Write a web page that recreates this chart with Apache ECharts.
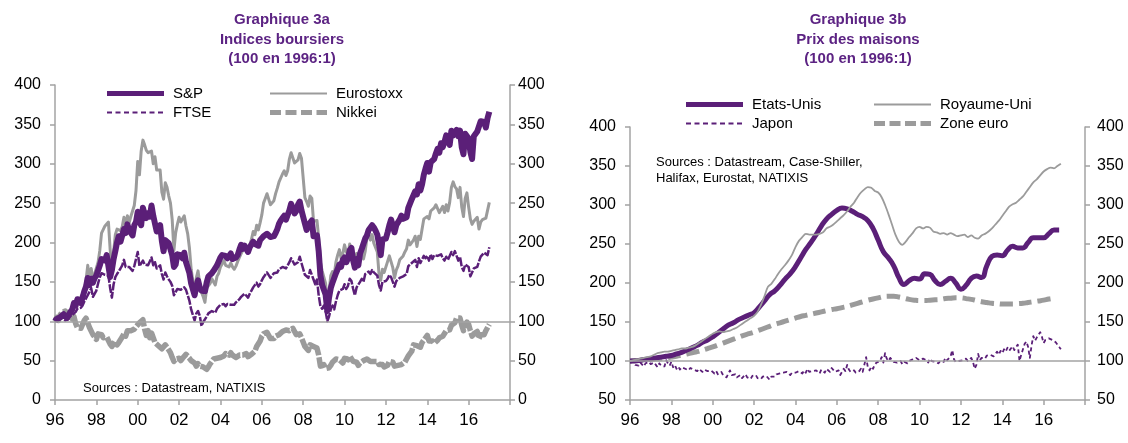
<!DOCTYPE html>
<html>
<head>
<meta charset="utf-8">
<script src="https://cdn.jsdelivr.net/npm/echarts/dist/echarts.min.js"></script>
<style>
  html, body { margin: 0; background: #fff; }
  #chart { width: 1128px; height: 443px; }
</style>
</head>
<body>
<div id="chart"></div>
<script>
// libellés de l'axe des x (un tous les 2 ans)
const yearLabels = ['96', '98', '00', '02', '04', '06', '08', '10', '12', '14', '16'];

// Graphique 3a : indices boursiers, mensuel, 100 en 1996:1
const spx = [100,
  103, 104, 105, 106, 109, 109, 104, 106, 112, 115, 123, 120,
  128, 129, 123, 130, 138, 144, 155, 146, 154, 149, 155, 158,
  159, 171, 179, 181, 177, 184, 182, 156, 165, 179, 189, 200,
  208, 201, 209, 217, 212, 223, 216, 215, 209, 222, 226, 239,
  227, 222, 244, 236, 231, 237, 233, 247, 234, 232, 214, 215,
  222, 202, 189, 203, 204, 199, 197, 184, 169, 172, 185, 187,
  184, 180, 187, 175, 174, 161, 148, 149, 133, 144, 152, 143,
  139, 137, 138, 149, 157, 159, 161, 164, 162, 171, 172, 181,
  184, 186, 183, 180, 182, 186, 179, 180, 181, 184, 191, 197,
  192, 196, 192, 188, 194, 194, 201, 198, 200, 196, 203, 203,
  208, 208, 211, 213, 207, 207, 208, 212, 217, 224, 228, 231,
  234, 229, 231, 241, 249, 244, 237, 240, 248, 252, 241, 239,
  224, 216, 215, 225, 228, 208, 206, 209, 189, 158, 146, 147,
  134, 113, 130, 142, 149, 149, 161, 166, 172, 169, 178, 181,
  175, 180, 190, 193, 177, 168, 179, 171, 186, 192, 192, 205,
  209, 216, 216, 222, 219, 215, 210, 198, 184, 204, 203, 205,
  213, 222, 229, 227, 213, 222, 224, 229, 234, 230, 230, 232,
  244, 246, 255, 260, 265, 261, 274, 266, 274, 286, 294, 301,
  290, 302, 304, 306, 313, 319, 314, 326, 321, 328, 336, 335,
  324, 342, 336, 339, 343, 335, 342, 321, 312, 338, 338, 332,
  315, 306, 335, 336, 341, 341, 354, 353, 353, 346, 358, 366];

const eurostoxx = [100,
  105, 105, 107, 108, 107, 109, 104, 106, 110, 113, 119, 123,
  122, 126, 131, 132, 138, 152, 171, 155, 167, 152, 160, 160,
  175, 190, 212, 211, 221, 221, 226, 191, 170, 188, 210, 217,
  219, 215, 220, 232, 224, 234, 225, 233, 234, 247, 266, 303,
  286, 316, 330, 324, 317, 314, 313, 316, 300, 309, 292, 291,
  292, 264, 255, 276, 270, 259, 250, 229, 190, 212, 223, 232,
  226, 224, 234, 221, 211, 193, 166, 167, 136, 155, 164, 147,
  137, 131, 124, 142, 142, 148, 154, 156, 146, 157, 161, 169,
  173, 177, 171, 172, 169, 174, 169, 166, 170, 176, 181, 186,
  190, 195, 195, 187, 197, 204, 214, 210, 222, 216, 225, 235,
  250, 256, 262, 261, 248, 249, 253, 262, 269, 277, 277, 287,
  291, 285, 291, 306, 314, 313, 301, 299, 305, 313, 307, 307,
  257, 252, 246, 259, 256, 227, 228, 228, 206, 175, 164, 166,
  148, 124, 137, 158, 163, 159, 175, 184, 191, 180, 186, 197,
  188, 185, 198, 191, 177, 174, 186, 178, 186, 193, 179, 189,
  206, 210, 203, 210, 199, 199, 188, 160, 152, 166, 162, 161,
  176, 183, 181, 168, 155, 165, 170, 178, 179, 183, 188, 192,
  203, 197, 197, 203, 208, 195, 208, 204, 217, 230, 231, 233,
  230, 240, 241, 244, 248, 246, 238, 242, 246, 238, 248, 240,
  251, 270, 277, 271, 268, 257, 270, 245, 233, 256, 263, 245,
  230, 223, 227, 229, 232, 217, 226, 229, 227, 231, 231, 251];

const ftse = [100,
  102, 101, 100, 104, 102, 101, 100, 105, 107, 108, 110, 112,
  116, 117, 117, 120, 125, 125, 133, 131, 142, 131, 131, 139,
  148, 156, 161, 161, 159, 158, 158, 142, 130, 147, 156, 160,
  160, 167, 171, 178, 169, 171, 169, 169, 164, 170, 179, 188,
  170, 169, 177, 172, 172, 171, 173, 181, 171, 175, 167, 169,
  171, 160, 153, 162, 157, 153, 150, 145, 133, 137, 141, 141,
  140, 138, 143, 140, 138, 126, 115, 115, 101, 110, 113, 107,
  94, 99, 98, 106, 110, 109, 113, 113, 111, 116, 118, 121,
  119, 122, 119, 122, 120, 121, 120, 121, 124, 125, 128, 131,
  132, 135, 133, 130, 135, 139, 143, 144, 149, 144, 147, 152,
  156, 157, 162, 163, 155, 158, 161, 160, 162, 166, 164, 169,
  168, 167, 171, 175, 180, 179, 172, 171, 175, 182, 174, 175,
  159, 160, 155, 165, 164, 153, 147, 153, 133, 119, 116, 120,
  113, 100, 106, 115, 120, 115, 125, 133, 139, 137, 141, 147,
  141, 145, 154, 151, 141, 133, 143, 142, 150, 154, 150, 160,
  159, 163, 160, 165, 162, 161, 158, 146, 139, 150, 149, 151,
  154, 159, 156, 156, 144, 151, 153, 155, 156, 157, 159, 160,
  170, 172, 174, 174, 178, 169, 180, 174, 175, 183, 180, 183,
  177, 185, 179, 184, 186, 183, 182, 185, 180, 177, 182, 178,
  183, 188, 184, 189, 189, 177, 182, 169, 164, 172, 172, 169,
  157, 158, 167, 169, 169, 176, 182, 184, 187, 189, 184, 194];

const nikkei = [100,
  105, 101, 108, 111, 111, 113, 104, 102, 109, 103, 106, 97,
  92, 93, 91, 96, 101, 104, 102, 92, 90, 83, 84, 77,
  84, 85, 83, 79, 79, 80, 82, 71, 68, 68, 75, 70,
  73, 72, 80, 84, 81, 88, 90, 88, 89, 90, 93, 95,
  98, 100, 102, 90, 82, 88, 79, 85, 79, 73, 74, 69,
  70, 65, 65, 70, 67, 65, 60, 54, 49, 52, 54, 53,
  50, 53, 55, 58, 59, 53, 50, 48, 47, 43, 46, 43,
  42, 42, 40, 39, 42, 46, 48, 52, 51, 53, 51, 54,
  54, 56, 59, 59, 57, 60, 57, 56, 54, 54, 57, 58,
  57, 59, 59, 55, 57, 58, 60, 62, 68, 68, 75, 81,
  84, 82, 86, 85, 78, 78, 78, 81, 81, 83, 82, 87,
  87, 89, 87, 88, 90, 91, 87, 83, 84, 84, 79, 77,
  68, 68, 63, 70, 72, 68, 67, 66, 57, 43, 43, 45,
  40, 38, 41, 44, 48, 50, 52, 53, 51, 51, 47, 53,
  51, 51, 56, 56, 49, 47, 48, 44, 47, 46, 50, 51,
  52, 53, 49, 50, 49, 49, 49, 45, 44, 45, 42, 43,
  44, 49, 51, 48, 43, 45, 44, 44, 45, 45, 48, 52,
  56, 58, 62, 70, 69, 69, 69, 67, 73, 72, 79, 82,
  75, 75, 75, 72, 74, 76, 79, 78, 81, 83, 88, 88,
  89, 95, 97, 98, 104, 102, 104, 95, 88, 96, 99, 96,
  88, 81, 84, 84, 87, 78, 83, 85, 83, 88, 92, 96];

// Graphique 3b : prix des maisons, 100 en 1996:1
// Etats-Unis, trimestriel
const usHouse = [
  100, 100, 101, 102,  103, 104, 105, 106,  107, 109, 111, 114,
  117, 120, 124, 127,  131, 136, 141, 146,  149, 153, 156, 159,
  162, 169, 177, 185,  190, 197, 205, 212,  221, 232, 243, 252,
  262, 273, 282, 288,  293, 296, 295, 292,  288, 285, 280, 270,
  255, 240, 232, 222,  207, 198, 203, 206,  205, 212, 211, 203,
  198, 202, 206, 200,  192, 197, 206, 209,  207, 222, 234, 236,
  235, 242, 247, 245,  245, 252, 258, 258,  258, 263, 268, 268];

// Royaume-Uni, tous les 2 mois
const ukHouse = [
  100, 101, 102, 103, 104, 105,  106, 108, 110, 111, 112, 112,
  113, 114, 115, 116, 116, 117,  118, 120, 123, 126, 129, 132,
  135, 137, 138, 137, 138, 139,  141, 143, 146, 149, 152, 155,
  158, 163, 172, 183, 195, 199,  205, 212, 218, 223, 229, 236,
  246, 254, 259, 263, 262, 262,  262, 263, 265, 270, 272, 275,
  279, 283, 287, 292, 298, 303,  310, 316, 320, 323, 322, 318,
  316, 310, 300, 288, 275, 262,  253, 249, 253, 259, 264, 270,
  272, 270, 272, 271, 266, 265,  263, 264, 262, 264, 262, 260,
  261, 262, 259, 261, 258, 257,  261, 263, 266, 270, 275, 280,
  286, 292, 298, 301, 303, 307,  311, 317, 323, 329, 333, 338,
  343, 346, 348, 347, 350, 353];

// Japon, mensuel
const jpHouse = [
  98, 96, 99, 95, 97, 94, 98, 96, 93, 97, 95, 99,
  96, 94, 98, 95, 92, 97, 94, 96, 93, 101, 97, 94,
  99, 92, 95, 90, 93, 89, 92, 94, 90, 92, 88, 91,
  93, 89, 91, 87, 90, 88, 86, 89, 91, 87, 85, 88,
  86, 84, 87, 83, 85, 86, 82, 84, 79, 81, 88, 82,
  80, 83, 79, 81, 82, 78, 80, 83, 79, 80, 77, 81,
  79, 82, 78, 80, 77, 80, 78, 81, 79, 76, 80, 78,
  80, 83, 81, 84, 82, 85, 83, 86, 84, 82, 85, 87,
  85, 83, 87, 86, 84, 88, 85, 90, 86, 84, 87, 85,
  88, 86, 84, 89, 87, 85, 90, 88, 86, 91, 89, 86,
  84, 88, 82, 86, 90, 87, 95, 89, 86, 84, 88, 85,
  84, 87, 90, 86, 88, 105, 92, 88, 93, 90, 95, 98,
  96, 100, 105, 98, 110, 103, 100, 104, 103, 99, 101, 98,
  97, 100, 96, 99, 101, 97, 100, 98, 102, 100, 104, 106,
  101, 99, 103, 105, 101, 98, 103, 100, 102, 99, 101, 97,
  100, 102, 99, 104, 101, 103, 106, 114, 102, 99, 101, 100,
  98, 101, 99, 103, 100, 102, 104, 99, 90, 95, 109, 101,
  104, 106, 103, 107, 105, 108, 110, 106, 109, 112, 108, 113,
  110, 115, 112, 117, 113, 116, 119, 114, 118, 121, 100, 108,
  115, 122, 125, 118, 104, 120, 132, 126, 130, 128, 137, 131,
  123, 127, 125, 129, 128, 127, 126, 124, 122, 118, 115];

// Zone euro, trimestriel
const ezHouse = [
  100, 100.5, 101, 101.5,  102, 102.5, 103, 104,  105, 106, 107.5, 109,
  110.5, 112, 114, 116,  118, 120.5, 123, 125.5,  128, 130.5, 133, 135,
  137, 139.5, 142, 144.5,  147, 149, 151, 153,  155, 157, 158.5, 160,
  161.5, 163, 164.5, 166,  167, 168.5, 170, 172,  174, 176, 178, 179.5,
  181, 182.5, 183, 183,  182, 180.5, 179, 178,  177.5, 177.5, 178, 178.5,
  179, 180, 180.5, 181,  181, 180, 179, 177.5,  176, 175, 174, 173.5,
  173, 173, 173, 173.5,  174, 175, 176, 177,  178, 179.5, 180.5];

const FONT = '"Liberation Sans", Arial, sans-serif';
const PURPLE = '#5b1f78';
const GRAY = '#9b9b9b';
const AXIS = '#a3a3a3';

// date de chaque point = 1996 + i * pas
const dated = (arr, step) => arr.map((v, i) => [1996 + i * step, v]);

const xLabel = v => yearLabels[Math.round((v - 1996) / 2)] || '';

function xAxis(gridIndex) {
  return {
    type: 'value', gridIndex, min: 1996, max: 2018, interval: 2,
    axisLine: { show: true, onZero: false, lineStyle: { color: AXIS, width: 1.5 } },
    axisTick: { show: true, length: 5, lineStyle: { color: AXIS, width: 1.5 } },
    axisLabel: { formatter: xLabel, color: '#000', fontSize: 17, fontFamily: FONT, margin: 12 },
    splitLine: { show: false }
  };
}
function yAxis(gridIndex, position, min, margin) {
  return {
    type: 'value', gridIndex, position, min, max: 400, interval: 50,
    axisLine: { show: true, lineStyle: { color: AXIS, width: 1.5 } },
    axisTick: { show: true, length: 5, lineStyle: { color: AXIS, width: 1.5 } },
    axisLabel: { color: '#000', fontSize: 16, fontFamily: FONT, margin },
    splitLine: { show: false }
  };
}

function line(name, data, xi, yi, color, width, type, smooth) {
  return {
    name, type: 'line', data, xAxisIndex: xi, yAxisIndex: yi,
    symbol: 'none', smooth: smooth || false,
    lineStyle: { color, width, type: type || 'solid', cap: 'butt', join: 'round' },
    itemStyle: { color },
    emphasis: { disabled: true }
  };
}

const hundred = {
  silent: true, symbol: 'none', label: { show: false },
  lineStyle: { color: AXIS, width: 1.5, type: 'solid' },
  data: [{ yAxis: 100 }]
};

// icône de légende : trait plein ou tirets, dessiné dans une boîte 57 x 12
function icon(h, dash, gap) {
  const W = 57, H = 12, y = (H - h) / 2;
  let d = 'path://M0,0h0.01v0.01h-0.01z M56.99,11.99h0.01v0.01h-0.01z ';
  if (!dash) {
    d += `M0,${y}h${W}v${h}h-${W}z`;
  } else {
    for (let x = 0; x < W; x += dash + gap) {
      const w = Math.min(dash, W - x);
      d += `M${x},${y}h${w}v${h}h-${w}z `;
    }
  }
  return d;
}

function legend(data, left, top) {
  return {
    data, orient: 'vertical', left, top, itemWidth: 57, itemHeight: 12, itemGap: 4,
    selectedMode: false, symbolKeepAspect: false,
    textStyle: { color: '#000', fontSize: 15, fontFamily: FONT, padding: [0, 0, 0, 4] }
  };
}

function titleLines(x, lines) {
  return lines.map((t, k) => ({
    type: 'text', x, y: 20 + k * 19.5,
    style: { text: t, textAlign: 'center', textVerticalAlign: 'middle',
             fill: '#5c2383', font: 'bold 15px ' + FONT }
  }));
}

const nik = line('Nikkei', dated(nikkei, 1 / 12), 0, 0, GRAY, 5.5, [16, 2]);
nik.markLine = hundred;
const ez = line('Zone euro', dated(ezHouse, 0.25), 1, 2, GRAY, 5, [13, 6], true);
ez.markLine = hundred;

const chart = echarts.init(document.getElementById('chart'));
chart.setOption({
  animation: false,
  backgroundColor: '#fff',
  grid: [
    { left: 55, top: 85, width: 455, height: 315 },
    { left: 630, top: 127, width: 455, height: 273 }
  ],
  xAxis: [xAxis(0), xAxis(1)],
  yAxis: [
    yAxis(0, 'left', 0, 14), yAxis(0, 'right', 0, 8),
    yAxis(1, 'left', 50, 14), yAxis(1, 'right', 50, 12)
  ],
  legend: [
    legend([{ name: 'S&P', icon: icon(5) }, { name: 'FTSE', icon: icon(2, 5, 3.5) }], 102, 81),
    legend([{ name: 'Eurostoxx', icon: icon(2) }, { name: 'Nikkei', icon: icon(5, 11, 4.5) }], 265, 81),
    legend([{ name: 'Etats-Unis', icon: icon(5) }, { name: 'Japon', icon: icon(1.8, 5, 3.5) }], 681, 92),
    legend([{ name: 'Royaume-Uni', icon: icon(1.8) }, { name: 'Zone euro', icon: icon(5, 11, 4.5) }], 869, 92)
  ],
  series: [
    nik,
    line('Eurostoxx', dated(eurostoxx, 1 / 12), 0, 0, GRAY, 3),
    line('S&P', dated(spx, 1 / 12), 0, 0, PURPLE, 6),
    line('FTSE', dated(ftse, 1 / 12), 0, 0, PURPLE, 2.5, [9, 1.5]),
    ez,
    line('Japon', dated(jpHouse, 1 / 12), 1, 2, PURPLE, 1.8, [4, 3]),
    line('Etats-Unis', dated(usHouse, 0.25), 1, 2, PURPLE, 5, 'solid', true),
    line('Royaume-Uni', dated(ukHouse, 1 / 6), 1, 2, GRAY, 1.8, 'solid', 0.3)
  ],
  graphic: [
    ...titleLines(282, ['Graphique 3a', 'Indices boursiers', '(100 en 1996:1)']),
    ...titleLines(858, ['Graphique 3b', 'Prix des maisons', '(100 en 1996:1)']),
    { type: 'text', x: 83, y: 388,
      style: { text: 'Sources : Datastream, NATIXIS', textVerticalAlign: 'middle',
               fill: '#000', font: '13px ' + FONT } },
    { type: 'text', x: 656, y: 162,
      style: { text: 'Sources : Datastream, Case-Shiller,', textVerticalAlign: 'middle',
               fill: '#000', font: '13px ' + FONT } },
    { type: 'text', x: 656, y: 178,
      style: { text: 'Halifax, Eurostat, NATIXIS', textVerticalAlign: 'middle',
               fill: '#000', font: '13px ' + FONT } }
  ]
});
</script>
</body>
</html>
